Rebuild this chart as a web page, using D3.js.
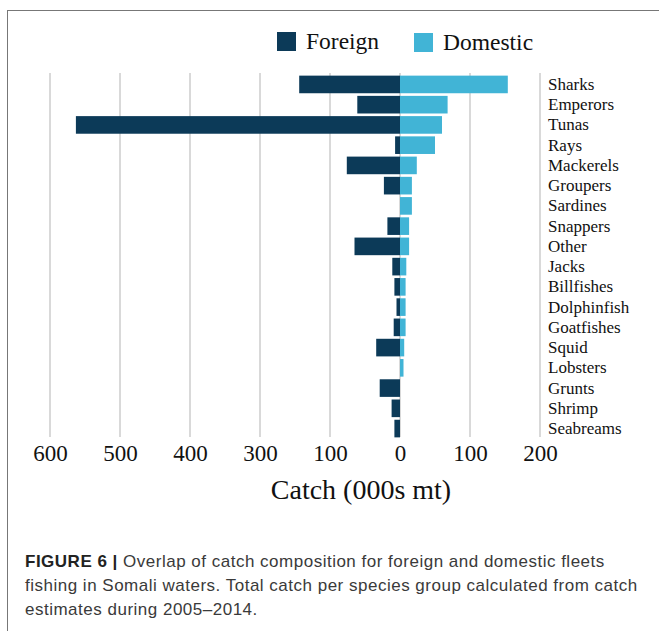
<!DOCTYPE html>
<meta charset="utf-8">
<html>
<head>
    <style>
        body {
            margin: 0;
            background: #fff;
        }

        .grid line {
            stroke: #d9d9d9;
            stroke-width: 2px;
        }

        .serif {
            font-family: 'Liberation Serif', 'Times New Roman', serif;
            fill: #111;
        }

        .caption {
            font-family: 'Liberation Sans', Arial, sans-serif;
            font-size: 17px;
            letter-spacing: 0.5px;
            fill: #3a3a3a;
        }
    </style>
</head>

<body>
    <svg id="chart"></svg>

    <script src="https://cdn.jsdelivr.net/npm/d3@7"></script>
    <script>

        // species groups, top to bottom
        var species = ["Sharks", "Emperors", "Tunas", "Rays", "Mackerels", "Groupers", "Sardines",
            "Snappers", "Other", "Jacks", "Billfishes", "Dolphinfish", "Goatfishes", "Squid",
            "Lobsters", "Grunts", "Shrimp", "Seabreams"];

        // catch in 000s mt
        var foreign = [144, 61, 463, 7, 76, 23, 0, 18, 65, 11, 8, 5, 9, 34, 0, 29, 12, 8];
        var domestic = [154, 68, 60, 50, 24, 17, 17, 13, 13, 9, 8, 8, 8, 6, 5, 0, 0, 0];

        // axis ticks and the labels the original prints under them
        var tickValues = [-500, -400, -300, -200, -100, 0, 100, 200];
        var tickLabels = ["600", "500", "400", "300", "100", "0", "100", "200"];

        var series = ["Foreign", "Domestic"];
        var colors = ["#0c3a58", "#41b4d6"];

        var width = 659, height = 631;

        var svg = d3.select("#chart")
            .attr("width", width)
            .attr("height", height);

        // frame round the figure
        svg.append("rect")
            .attr("x", 7.5)
            .attr("y", 10.5)
            .attr("width", 700)
            .attr("height", 700)
            .attr("fill", "none")
            .attr("stroke", "#777")
            .attr("stroke-width", 1);

        var x = d3.scaleLinear()
            .domain([-500, 200])
            .range([50, 540]);

        var y = d3.scaleBand()
            .domain(species)
            .range([73, 440])
            .padding(0.13);

        var gridTop = 73, gridBottom = 437;

        // vertical grid lines
        svg.append("g")
            .attr("class", "grid")
            .selectAll("line")
            .data(tickValues)
            .enter().append("line")
            .attr("x1", function (d) { return x(d); })
            .attr("x2", function (d) { return x(d); })
            .attr("y1", gridTop)
            .attr("y2", gridBottom);

        // foreign bars go left
        svg.append("g")
            .selectAll("rect")
            .data(species)
            .enter().append("rect")
            .attr("x", function (d, i) { return x(-foreign[i]); })
            .attr("y", function (d) { return y(d); })
            .attr("width", function (d, i) { return x(0) - x(-foreign[i]); })
            .attr("height", y.bandwidth())
            .attr("fill", colors[0]);

        // domestic bars go right
        svg.append("g")
            .selectAll("rect")
            .data(species)
            .enter().append("rect")
            .attr("x", x(0))
            .attr("y", function (d) { return y(d); })
            .attr("width", function (d, i) { return x(domestic[i]) - x(0); })
            .attr("height", y.bandwidth())
            .attr("fill", colors[1]);

        // species names on the right
        svg.append("g")
            .selectAll("text")
            .data(species)
            .enter().append("text")
            .attr("class", "serif")
            .attr("x", 548)
            .attr("y", function (d) { return y(d) + y.bandwidth() / 2 + 5.5; })
            .style("font-size", "17px")
            .text(function (d) { return d; });

        // bottom axis, no line or ticks, only the labels
        var xAxis = d3.axisBottom(x)
            .tickValues(tickValues)
            .tickSize(0)
            .tickPadding(0)
            .tickFormat(function (d, i) { return tickLabels[i]; });

        var gx = svg.append("g")
            .attr("transform", "translate(0,445)")
            .call(xAxis);
        gx.select(".domain").remove();
        gx.selectAll("text")
            .attr("class", "serif")
            .attr("dy", "0.71em")
            .style("font-size", "23px")
            .attr("fill", "#111");

        svg.append("text")
            .attr("class", "serif")
            .attr("x", 361)
            .attr("y", 499)
            .attr("text-anchor", "middle")
            .style("font-size", "28px")
            .text("Catch (000s mt)");

        // legend
        var legendX = [277, 414];
        var legend = svg.append("g")
            .selectAll("g")
            .data(series)
            .enter().append("g")
            .attr("transform", function (d, i) { return "translate(" + legendX[i] + "," + (32 + i) + ")"; });

        legend.append("rect")
            .attr("width", 19)
            .attr("height", 19)
            .attr("fill", function (d, i) { return colors[i]; });

        legend.append("text")
            .attr("class", "serif")
            .attr("x", 29)
            .attr("y", 17)
            .style("font-size", "23.5px")
            .text(function (d) { return d; });

        // caption
        var caption = svg.append("text")
            .attr("class", "caption")
            .attr("x", 25)
            .attr("y", 567);

        caption.append("tspan")
            .attr("font-weight", "bold")
            .attr("fill", "#222")
            .text("FIGURE 6 | ");
        caption.append("tspan")
            .text("Overlap of catch composition for foreign and domestic fleets");

        svg.append("text")
            .attr("class", "caption")
            .attr("x", 25)
            .attr("y", 591)
            .text("fishing in Somali waters. Total catch per species group calculated from catch");

        svg.append("text")
            .attr("class", "caption")
            .attr("x", 25)
            .attr("y", 615)
            .text("estimates during 2005\u20132014.");

    </script>
</body>
</html>
